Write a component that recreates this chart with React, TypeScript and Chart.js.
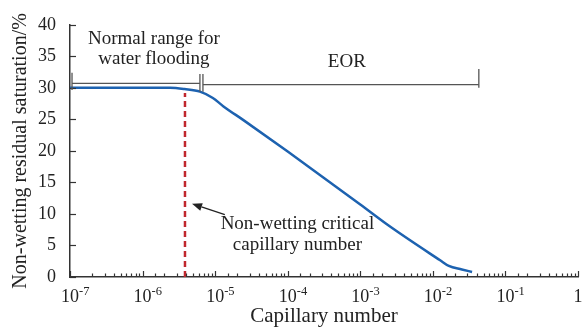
import React, { useEffect, useRef } from 'react';
import { Chart, registerables } from 'chart.js';

Chart.register(...registerables);

const FONT = '"Liberation Serif", "Times New Roman", serif';

// Curve: capillary number vs non-wetting residual saturation (%)
const capillaryNumbers = [1e-7, 1e-6, 2.4e-6, 3.8e-6, 6.17e-6, 9.3e-6, 1.29e-5, 2.51e-5, 1e-4, 1e-3, 2.57e-3, 1.26e-2, 1.66e-2, 2.51e-2, 3.47e-2];
const residualSaturation = [30, 30, 30, 29.8, 29.4, 28.4, 27.1, 24.8, 19.9, 11.5, 8.0, 2.65, 1.75, 1.2, 0.8];

// Critical capillary number (red dashed)
const criticalCapillary = 3.84e-6;
const criticalRange = [0, 29.2];

// Ranges (brackets)
const normalRange = [1.066e-7, 6.17e-6];
const eorRange = [6.79e-6, 4.3e-2];
const normalLevel = 30.7;
const eorLevel = 30.5;

// Axis ticks
const yTicks = [0, 5, 10, 15, 20, 25, 30, 35, 40];
const xTickExponents = [-7, -6, -5, -4, -3, -2, -1, 0];

// Text
const normalLabel = ['Normal range for', 'water flooding'];
const eorLabel = 'EOR';
const criticalLabel = ['Non-wetting critical', 'capillary number'];

const overlay = {
  id: 'overlay',
  afterDatasetsDraw(chart: any) {
    const { ctx, scales } = chart;
    const x = scales.x;
    const y = scales.y;
    const px = (v: number) => x.getPixelForValue(v);
    const py = (v: number) => y.getPixelForValue(v);
    ctx.save();

    // inward x ticks
    ctx.strokeStyle = '#333';
    ctx.lineWidth = 1.2;
    const bottom = py(0);
    x.ticks.forEach((t: any) => {
      const e = Math.log10(t.value);
      const major = Math.abs(e - Math.round(e)) < 1e-6;
      const X = Math.round(px(t.value)) + 0.5;
      ctx.beginPath();
      ctx.moveTo(X, bottom);
      ctx.lineTo(X, bottom - (major ? 6 : 3.5));
      ctx.stroke();
    });
    // inward y ticks
    const left = px(1e-7);
    yTicks.forEach((v) => {
      const Y = Math.round(py(v)) + 0.5;
      ctx.beginPath();
      ctx.moveTo(left, Y);
      ctx.lineTo(left + 6, Y);
      ctx.stroke();
    });

    // x tick labels
    ctx.fillStyle = '#222';
    ctx.textBaseline = 'alphabetic';
    xTickExponents.forEach((e) => {
      const X = px(Math.pow(10, e));
      if (e === 0) {
        ctx.font = `18px ${FONT}`;
        ctx.textAlign = 'center';
        ctx.fillText('1', X, 302);
        return;
      }
      ctx.font = `18px ${FONT}`;
      ctx.textAlign = 'center';
      ctx.fillText('10', X, 302);
      const w = ctx.measureText('10').width;
      ctx.font = `12.5px ${FONT}`;
      ctx.textAlign = 'left';
      ctx.fillText('-' + Math.abs(e), X + w / 2, 295);
    });

    // brackets
    ctx.strokeStyle = '#555';
    ctx.lineWidth = 1.3;
    const line = (x1: number, y1: number, x2: number, y2: number) => {
      ctx.beginPath();
      ctx.moveTo(x1, y1);
      ctx.lineTo(x2, y2);
      ctx.stroke();
    };
    const nl = px(normalRange[0]);
    const nr = px(normalRange[1]);
    const el = px(eorRange[0]);
    const er = px(eorRange[1]);
    line(nl, py(normalLevel), nr, py(normalLevel));
    line(nl, py(32.4), nl, py(29.65));
    line(nr, py(32.2), nr, py(29.4));
    line(el, py(32.2), el, py(29.4));
    line(el, py(eorLevel), er, py(eorLevel));
    line(er, py(33.0), er, py(30.0));

    // arrow
    ctx.strokeStyle = '#222';
    ctx.fillStyle = '#222';
    const hx = px(4.8e-6), hy = py(11.6);
    const tx = px(1.36e-5), ty = py(9.9);
    const ang = Math.atan2(hy - ty, hx - tx);
    const hl = 10, hw = 4;
    const bx = hx - hl * Math.cos(ang), by = hy - hl * Math.sin(ang);
    line(tx, ty, bx, by);
    ctx.beginPath();
    ctx.moveTo(hx, hy);
    ctx.lineTo(bx + hw * Math.sin(ang), by - hw * Math.cos(ang));
    ctx.lineTo(bx - hw * Math.sin(ang), by + hw * Math.cos(ang));
    ctx.closePath();
    ctx.fill();

    // texts
    ctx.fillStyle = '#222';
    ctx.font = `19px ${FONT}`;
    ctx.textAlign = 'center';
    ctx.textBaseline = 'alphabetic';
    ctx.fillText(normalLabel[0], px(1.435e-6), py(37.0));
    ctx.fillText(normalLabel[1], px(1.435e-6), py(33.75));
    ctx.fillText(eorLabel, px(6.53e-4), py(33.3));
    ctx.fillText(criticalLabel[0], px(1.36e-4), py(7.57));
    ctx.fillText(criticalLabel[1], px(1.36e-4), py(4.32));

    ctx.restore();
  },
};

export default function App() {
  const ref = useRef<HTMLCanvasElement | null>(null);
  useEffect(() => {
    if (!ref.current) return;
    const chart = new Chart(ref.current, {
      type: 'line',
      data: {
        datasets: [
          {
            data: criticalRange.map((v) => ({ x: criticalCapillary, y: v })),
            borderColor: '#c1272d',
            borderWidth: 2.5,
            borderDash: [6, 4],
            pointRadius: 0,
          },
          {
            data: capillaryNumbers.map((c, i) => ({ x: c, y: residualSaturation[i] })),
            borderColor: '#1d62b0',
            borderWidth: 2.5,
            pointRadius: 0,
            cubicInterpolationMode: 'monotone',
          },
        ],
      },
      options: {
        animation: false,
        responsive: false,
        maintainAspectRatio: false,
        layout: { padding: { left: 0, right: 4, top: 18, bottom: 0 } },
        plugins: { legend: { display: false }, tooltip: { enabled: false } },
        scales: {
          x: {
            type: 'logarithmic',
            min: 1e-7,
            max: 1,
            ticks: { display: false, autoSkip: false },
            grid: { display: false, drawTicks: false },
            border: { display: true, color: '#333', width: 1.5 },
            title: {
              display: true,
              text: 'Capillary number',
              color: '#222',
              font: { size: 21, family: FONT },
              padding: { top: 0, bottom: 1 },
            },
            afterFit: (s: any) => {
              s.height = 53;
            },
          },
          y: {
            type: 'linear',
            min: 0,
            max: 40,
            ticks: { stepSize: 5, padding: 14, color: '#222', font: { size: 18, family: FONT } },
            grid: { display: false, drawTicks: false },
            border: { display: true, color: '#333', width: 1.5 },
            title: {
              display: true,
              text: 'Non-wetting residual saturation/%',
              color: '#222',
              font: { size: 20, family: FONT },
              padding: { top: 9, bottom: 0 },
            },
            afterFit: (s: any) => {
              s.width = 70;
            },
          },
        },
      } as any,
      plugins: [overlay],
    });
    return () => chart.destroy();
  }, []);
  return (
    <div style={{ position: 'fixed', left: 0, top: 0, width: 582, height: 330, background: '#fff' }}>
      <canvas ref={ref} width={582} height={330} style={{ display: 'block' }} />
    </div>
  );
}
